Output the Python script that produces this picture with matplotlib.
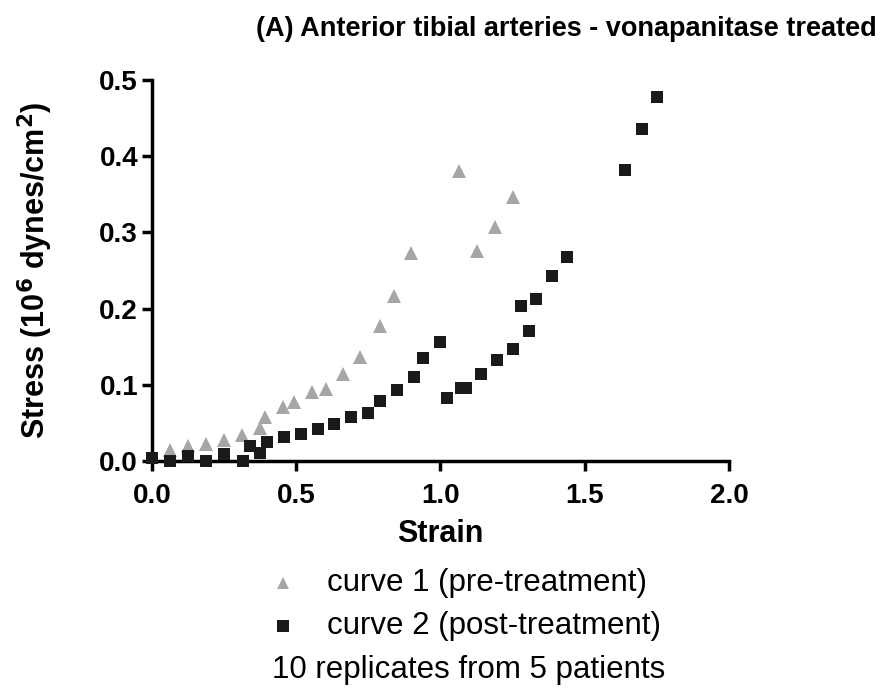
import matplotlib
matplotlib.use("Agg")
import matplotlib.pyplot as plt
from matplotlib.lines import Line2D

plt.rcParams['font.family'] = ['Liberation Sans', 'DejaVu Sans']

# curve 1 (pre-treatment)
pre_strain = [0.0625, 0.125, 0.1875, 0.25, 0.3125, 0.375, 0.392, 0.454, 0.493, 0.554,
              0.602, 0.662, 0.72, 0.79, 0.838, 0.898, 1.0625, 1.125, 1.1875, 1.25]
pre_stress = [0.014, 0.019, 0.022, 0.028, 0.034, 0.043, 0.058, 0.071, 0.077, 0.090,
              0.095, 0.114, 0.137, 0.177, 0.217, 0.273, 0.381, 0.276, 0.307, 0.346]

# curve 2 (post-treatment)
post_strain = [0.0, 0.0625, 0.126, 0.1875, 0.251, 0.314, 0.34, 0.375, 0.398, 0.458,
               0.516, 0.574, 0.632, 0.691, 0.749, 0.792, 0.849, 0.907, 0.94, 1.0,
               1.023, 1.07, 1.09, 1.141, 1.197, 1.252, 1.278, 1.308, 1.331, 1.385,
               1.44, 1.64, 1.697, 1.752]
post_stress = [0.004, 0.0, 0.006, 0.0, 0.009, 0.0, 0.020, 0.011, 0.025, 0.031,
               0.035, 0.042, 0.048, 0.058, 0.063, 0.079, 0.093, 0.110, 0.135, 0.156,
               0.082, 0.096, 0.096, 0.114, 0.132, 0.147, 0.203, 0.171, 0.212, 0.243,
               0.268, 0.382, 0.436, 0.478]

x_ticks = [0.0, 0.5, 1.0, 1.5, 2.0]
y_ticks = [0.0, 0.1, 0.2, 0.3, 0.4, 0.5]
legend_labels = ["curve 1 (pre-treatment)", "curve 2 (post-treatment)"]
note = "10 replicates from 5 patients"

gray = "#a6a6a6"
black = "#1a1a1a"

fig = plt.figure(figsize=(8.82, 6.91), dpi=100)
ax = fig.add_axes([0.1723, 0.3329, 0.6542, 0.5513])

ax.plot(pre_strain, pre_stress, linestyle="none", marker="^", color=gray,
        markersize=9.5, markeredgewidth=0, clip_on=False, zorder=3)
ax.plot(post_strain, post_stress, linestyle="none", marker="s", color=black,
        markersize=9, markeredgewidth=0, clip_on=False, zorder=4)

ax.set_xlim(0, 2.0)
ax.set_ylim(0, 0.5)
ax.set_xticks(x_ticks)
ax.set_yticks(y_ticks)
ax.set_xticklabels([f"{v:.1f}" for v in x_ticks], fontsize=20, fontweight="bold")
ax.set_yticklabels([f"{v:.1f}" for v in y_ticks], fontsize=20, fontweight="bold")
for side in ["top", "right"]:
    ax.spines[side].set_visible(False)
for side in ["left", "bottom"]:
    ax.spines[side].set_linewidth(2.5)
ax.tick_params(width=2.5, length=7, direction="out")
ax.tick_params(axis="x", pad=9)
ax.tick_params(axis="y", pad=3)

ax.set_xlabel("Strain", fontsize=22, fontweight="bold", labelpad=7)
ax.set_ylabel("Stress (10$^{\\mathbf{6}}$ dynes/cm$^{\\mathbf{2}}$)", fontsize=22,
              fontweight="bold", labelpad=32)

fig.text(0.6423, 0.958, "(A) Anterior tibial arteries - vonapanitase treated",
         ha="center", va="center", fontsize=19.5, fontweight="bold")

# legend drawn in figure coordinates
for y, mk, col, label in [(0.1563, "^", gray, legend_labels[0]),
                          (0.0941, "s", black, legend_labels[1])]:
    fig.add_artist(Line2D([0.3209], [y], transform=fig.transFigure, linestyle="none",
                          marker=mk, color=col, markersize=9, markeredgewidth=0))
    fig.text(0.3707, y, label, ha="left", va="center", fontsize=22.5)

fig.text(0.5318, 0.0304, note, ha="center", va="center", fontsize=22.5)

fig.savefig("out.png", dpi=100)
